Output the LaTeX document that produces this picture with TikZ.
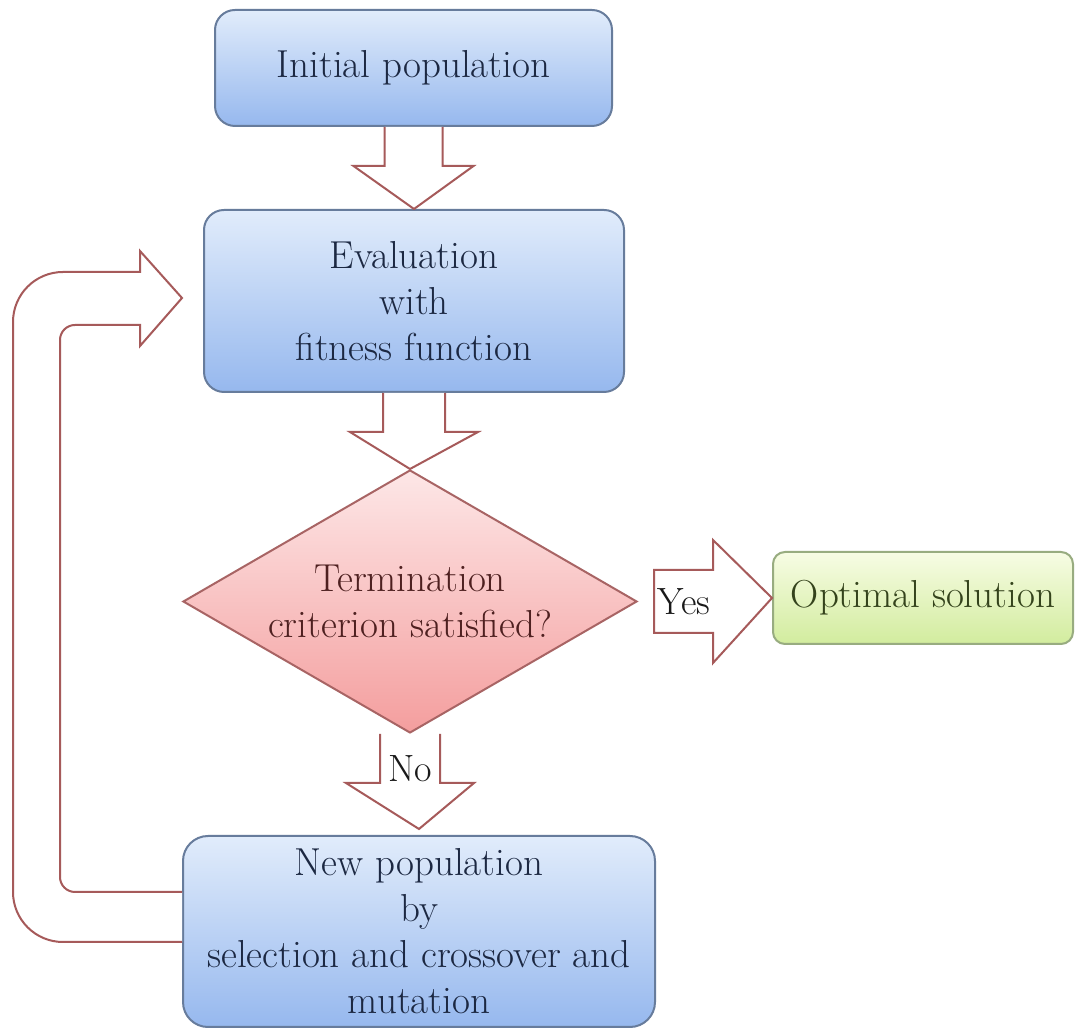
\documentclass[tikz,border=0pt]{standalone}
\usetikzlibrary{shapes.geometric,calc}
\definecolor{bluetop}{HTML}{E1ECFB}
\definecolor{bluebot}{HTML}{96B8EE}
\definecolor{blueline}{HTML}{677C9C}
\definecolor{bluetext}{HTML}{1C2842}
\definecolor{pinktop}{HTML}{FDE7E7}
\definecolor{pinkbot}{HTML}{F49E9E}
\definecolor{pinkline}{HTML}{A86464}
\definecolor{pinktext}{HTML}{4E2020}
\definecolor{greentop}{HTML}{F7FCE4}
\definecolor{greenbot}{HTML}{D2EC9E}
\definecolor{greenline}{HTML}{98AC80}
\definecolor{greentext}{HTML}{34431C}
\definecolor{arline}{HTML}{A65A5A}
\tikzset{
  txt/.style={font=\fontsize{39}{46}\selectfont, align=center},
  bluebox/.style={draw=blueline, line width=2pt, rounded corners=20pt,
    top color=bluetop, bottom color=bluebot, text=bluetext, txt, inner sep=0pt},
  greenbox/.style={draw=greenline, line width=2pt, rounded corners=12pt,
    top color=greentop, bottom color=greenbot, text=greentext, txt, inner sep=0pt},
  decbox/.style={diamond, draw=pinkline, line width=2pt,
    top color=pinktop, bottom color=pinkbot, inner sep=0pt},
  blockar/.style={draw=arline, line width=2pt, fill=white, line join=miter},
  lbl/.style={font=\fontsize{38}{40}\selectfont, text=black!90, inner sep=0pt}
}
\begin{document}
\begin{tikzpicture}[x=1pt,y=1pt]
\useasboundingbox[fill=white] (0,0) rectangle (1075,1032);

% nodes
\node[bluebox, minimum width=397pt, minimum height=116pt] (init) at (413.5,964) {Initial population};
\node[bluebox, minimum width=420pt, minimum height=182pt] (eval) at (414,731) {Evaluation\\with\\fitness function};
\node[decbox, minimum width=454pt, minimum height=263pt] (dec) at (410,430.5) {};
\node[txt, text=pinktext] (dectext) at (dec.center) {Termination\\criterion satisfied?};
\node[greenbox, minimum width=300pt, minimum height=92pt] (opt) at (923,434) {Optimal solution};
\node[bluebox, minimum width=472pt, minimum height=191pt, rounded corners=25pt] (newp) at (419,100.5) {New population\\by\\selection and crossover and\\mutation};

% arrow: init -> eval
\path[blockar] ($(init.south)+(-29,0)$) -- ++(0,-39) -- ++(-31,0) -- (eval.north)
  -- ($(init.south)+(60,-39)$) -- ++(-31,0) -- ($(init.south)+(29,0)$);

% arrow: eval -> dec
\path[blockar] ($(eval.south)+(-31,0)$) -- ++(0,-39) -- ++(-33,0) -- (dec.north)
  -- ($(eval.south)+(64,-39)$) -- ++(-33,0) -- ($(eval.south)+(31,0)$);

% arrow: dec -> opt (Yes)
\path[blockar] ($(dec.east)+(16,31.5)$) -- ++(59,0) -- ++(0,30) -- (opt.west)
  -- ($(dec.east)+(75,-61.5)$) -- ++(0,30) -- ($(dec.east)+(16,-31.5)$) -- cycle;
\node[lbl] (yes) at ($(dec.east)+(46,0)$) {Yes};

% arrow: dec -> newp (No)
\path[blockar] ($(dec.south)+(-30,0)$) -- ++(0,-49) -- ++(-34,0) -- ($(newp.north)+(0,6)$)
  -- ($(dec.south)+(64,-49)$) -- ++(-34,0) -- ($(dec.south)+(30,0)$);
\node[lbl] (no) at ($(dec.south)+(0,-35)$) {No};

% loop arrow: newp -> eval
\coordinate (lstart) at ($(newp.west)+(0,-10.5)$);
\coordinate (lend) at ($(newp.west)+(0,39.5)$);
\coordinate (ltip) at ($(eval.west)+(-21,3)$);
\path[blockar] (lstart) -- (63,90) arc[start angle=270, end angle=180, radius=50]
  -- (13,710) arc[start angle=180, end angle=90, radius=50]
  -- (140,760) -- (140,781) -- (ltip) -- (140,686) -- (140,707)
  -- (75,707) arc[start angle=90, end angle=180, radius=15]
  -- (60,155) arc[start angle=180, end angle=270, radius=15]
  -- (lend);
\end{tikzpicture}
\end{document}
